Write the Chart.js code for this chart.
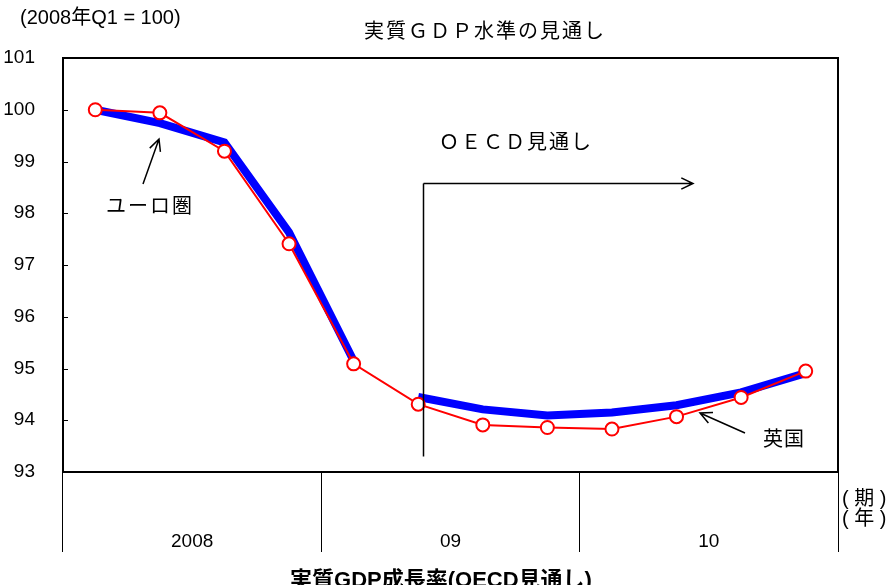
<!DOCTYPE html>
<html>
<head>
<meta charset="utf-8">
<script src="https://cdn.jsdelivr.net/npm/chart.js@4"></script>
<style>
  body { margin: 0; background: #fff; }
  #wrap { width: 892px; height: 585px; position: relative; }
</style>
</head>
<body>
<div id="wrap"><canvas id="gdpChart"></canvas></div>
<script>
const quarters = ['2008Q1', '2008Q2', '2008Q3', '2008Q4', '2009Q1', '2009Q2', '2009Q3', '2009Q4', '2010Q1', '2010Q2', '2010Q3', '2010Q4'];
const years = ['2008', '09', '10'];
const euroArea = [100, 99.74, 99.37, 97.63, 95.15, 94.45, 94.21, 94.09, 94.15, 94.29, 94.54, 94.91];
const uk = [100, 99.94, 99.2, 97.41, 95.09, 94.31, 93.91, 93.86, 93.83, 94.07, 94.44, 94.95];
const yMin = 93;
const yMax = 101;

const FONT = "'Liberation Sans', 'Noto Sans CJK JP', sans-serif";

function arrow(ctx, x1, y1, x2, y2) {
    // open arrow head at (x2, y2)
    const a = Math.atan2(y2 - y1, x2 - x1);
    const len = 13, spread = 0.45;
    ctx.beginPath();
    ctx.moveTo(x1, y1);
    ctx.lineTo(x2, y2);
    ctx.moveTo(x2 - len * Math.cos(a - spread), y2 - len * Math.sin(a - spread));
    ctx.lineTo(x2, y2);
    ctx.lineTo(x2 - len * Math.cos(a + spread), y2 - len * Math.sin(a + spread));
    ctx.stroke();
}

function text(ctx, str, x, y, size, align, spacing, weight) {
    ctx.font = (weight || 'normal') + ' ' + size + 'px ' + FONT;
    ctx.letterSpacing = (spacing || 0) + 'px';
    ctx.textAlign = align;
    ctx.textBaseline = 'middle';
    ctx.fillText(str, x, y);
    ctx.letterSpacing = '0px';
}

const decorations = {
    id: 'decorations',
    afterDraw(chart) {
        const ctx = chart.ctx;
        const area = chart.chartArea;
        const y = chart.scales.y;
        const x = chart.scales.x;
        ctx.save();
        ctx.strokeStyle = '#000';
        ctx.fillStyle = '#000';

        // plot frame
        ctx.lineWidth = 2;
        ctx.strokeRect(area.left, area.top, area.right - area.left, area.bottom - area.top);

        // inward tick marks
        ctx.lineWidth = 1;
        for (let v = yMin + 1; v < yMax; v++) {
            const py = Math.round(y.getPixelForValue(v)) + 0.5;
            ctx.beginPath();
            ctx.moveTo(area.left, py);
            ctx.lineTo(area.left + 5, py);
            ctx.stroke();
        }

        text(ctx, '(2008年Q1 = 100)', 20, 18, 20, 'left');
        text(ctx, '実質ＧＤＰ水準の見通し', 485, 32, 20, 'center', 2);
        text(ctx, 'ＯＥＣＤ見通し', 439, 143, 20, 'left', 2);
        text(ctx, 'ユーロ圏', 106, 207, 20, 'left', 2);
        text(ctx, '英国', 763, 440, 20, 'left', 1);
        text(ctx, '( 期 )', 842, 499, 20, 'left');
        text(ctx, '( 年 )', 842, 519, 20, 'left');
        text(ctx, '実質GDP成長率(OECD見通し)', 441, 581, 22, 'center', 0, 'bold');

        // forecast marker
        const fx = Math.round(x.getPixelForValue(5)) + 5.5;
        const fyTop = 183.5;
        ctx.lineWidth = 1.5;
        ctx.beginPath();
        ctx.moveTo(fx, y.getPixelForValue(93.3));
        ctx.lineTo(fx, fyTop);
        ctx.stroke();
        arrow(ctx, fx, fyTop, 693, fyTop);

        ctx.lineWidth = 1.5;
        arrow(ctx, 143, 184, 159, 139);
        arrow(ctx, 745, 433, 700, 413);

        ctx.restore();
    }
};

new Chart(document.getElementById('gdpChart'), {
    type: 'line',
    data: {
        labels: quarters,
        datasets: [{
            label: '英国',
            data: uk,
            borderColor: '#ff0000',
            borderWidth: 2,
            pointRadius: 6.5,
            pointBorderWidth: 2,
            pointBorderColor: '#ff0000',
            pointBackgroundColor: '#ffffff',
            tension: 0
        }, {
            label: 'ユーロ圏',
            data: euroArea,
            borderColor: '#0000ff',
            borderWidth: 8,
            borderJoinStyle: 'miter',
            pointRadius: 0,
            tension: 0,
            segment: {
                borderColor: ctx => ctx.p0DataIndex === 4 ? 'rgba(0,0,0,0)' : undefined
            }
        }]
    },
    options: {
        responsive: true,
        maintainAspectRatio: false,
        animation: false,
        layout: { padding: { top: 58, right: 54, left: 0, bottom: 0 } },
        plugins: {
            legend: { display: false },
            tooltip: { enabled: false }
        },
        scales: {
            x: {
                type: 'category',
                display: false,
                offset: true
            },
            x2: {
                type: 'category',
                labels: years,
                position: 'bottom',
                offset: true,
                grid: {
                    offset: true,
                    drawOnChartArea: false,
                    tickLength: 80,
                    color: '#000',
                    lineWidth: 1
                },
                border: { display: false },
                ticks: {
                    padding: -22,
                    color: '#000',
                    font: { family: FONT, size: 19 }
                },
                afterFit(s) { s.height = 113; }
            },
            y: {
                min: yMin,
                max: yMax,
                grid: { display: false },
                border: { display: false },
                ticks: {
                    stepSize: 1,
                    padding: 20,
                    color: '#000',
                    font: { family: FONT, size: 19 }
                },
                afterFit(s) { s.width = 63; }
            }
        }
    },
    plugins: [decorations]
});
</script>
</body>
</html>
